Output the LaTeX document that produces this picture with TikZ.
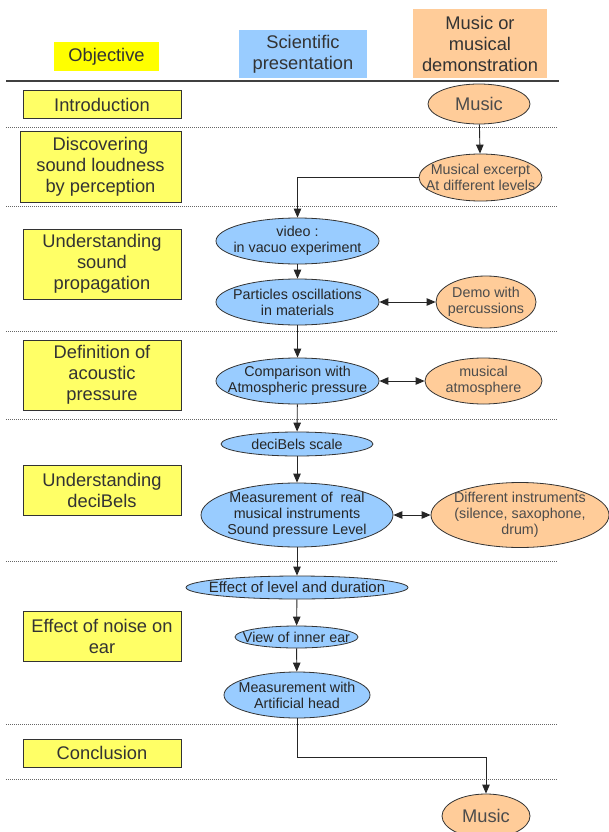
\documentclass[tikz,border=0pt]{standalone}
\usepackage{fontspec}
\setmainfont{Liberation Sans}
\usepackage{tikz}
\usetikzlibrary{shapes.geometric}
\usetikzlibrary{arrows.meta}
\definecolor{objyellow}{HTML}{FFFF00}
\definecolor{boxyellow}{HTML}{FFFF66}
\definecolor{sciblue}{HTML}{99CCFF}
\definecolor{musorange}{HTML}{FFCC99}
\definecolor{txtgray}{HTML}{333333}
\newcommand{\bigtxt}{\fontsize{18.3}{21}\selectfont}
\newcommand{\smalltxt}{\fontsize{14.3}{16}\selectfont}

\begin{document}
\begin{tikzpicture}[x=1pt, y=-1pt,
		head/.style={inner sep=0pt, align=center, text=txtgray, font=\bigtxt},
		stepbox/.style={draw=black!80, line width=1pt, fill=boxyellow, minimum width=158pt, inner sep=0pt, align=center, text=txtgray, font=\bigtxt},
		sci/.style={ellipse, draw=black!80, line width=0.8pt, fill=sciblue, inner sep=-20pt, align=center, text=black!85, font=\smalltxt},
		mus/.style={ellipse, draw=black!80, line width=0.8pt, fill=musorange, inner sep=-20pt, align=center, text=black!70, font=\smalltxt},
		arr/.style={line width=0.9pt, black!85, -{Triangle[length=9pt, width=7.5pt]}},
		dblarr/.style={line width=0.9pt, black!85, {Triangle[length=9pt, width=7.5pt]}-{Triangle[length=9pt, width=7.5pt]}},
		sep/.style={black!60, line width=0.8pt, dash pattern=on 1pt off 1pt}]
		\useasboundingbox (0, 0) rectangle (609, 832);
		\fill[white] (0, 0) rectangle (609, 832);
		\node[head, fill=objyellow, minimum width=105pt, minimum height=29pt] (objective) at (106.5, 56.5) {Objective};
		\node[head, fill=sciblue, minimum width=128pt, minimum height=48pt] (scientific) at (303, 54) {Scientific\\presentation};
		\node[head, fill=musorange, minimum width=134pt, minimum height=69pt] (musical) at (480, 43.5) {Music or\\musical\\demonstration};
		\draw[black!75, line width=1.2pt] (6, 81) to (559, 81);
		\foreach \y in {127, 206, 331, 419, 561, 724, 779} {
			\draw[sep] (6, \y) to (558, \y);
		}
		\node[stepbox, minimum height=28pt] (intro) at (102, 105) {Introduction};
		\node[stepbox, minimum width=161pt, minimum height=70pt] (discover) at (100.5, 167) {Discovering\\sound loudness\\by perception};
		\node[stepbox, minimum height=70pt] (propag) at (102, 264) {Understanding\\sound\\propagation};
		\node[stepbox, minimum height=70pt] (defin) at (102, 375) {Definition of\\acoustic\\pressure};
		\node[stepbox, minimum height=50pt] (undb) at (102, 490) {Understanding\\deciBels};
		\node[stepbox, minimum height=50pt] (noise) at (102, 636) {Effect of noise on\\ear};
		\node[stepbox, minimum height=28pt] (concl) at (102, 753) {Conclusion};
		\node[mus, font=\bigtxt, minimum width=102pt, minimum height=40pt] (music1) at (479, 104) {Music};
		\node[mus, minimum width=123pt, minimum height=47pt] (excerpt) at (480.5, 177.5) {Musical excerpt\\At different levels};
		\node[sci, minimum width=163pt, minimum height=46pt] (video) at (297.5, 241) {video :\\in vacuo experiment};
		\node[sci, minimum width=163pt, minimum height=46pt] (partic) at (297.5, 302) {Particles oscillations\\in materials};
		\node[mus, minimum width=100pt, minimum height=52pt] (demo) at (486, 302) {Demo with\\percussions};
		\node[sci, minimum width=163pt, minimum height=46pt] (compar) at (297.5, 381) {Comparison with\\Atmospheric pressure};
		\node[mus, minimum width=117pt, minimum height=46pt] (atmos) at (483.5, 381) {musical\\atmosphere};
		\node[sci, minimum width=152pt, minimum height=24pt] (dbscale) at (297, 444) {deciBels scale};
		\node[sci, minimum width=192pt, minimum height=64pt] (measure) at (297, 515) {Measurement of~ real\\musical instruments\\Sound pressure Level};
		\node[mus, minimum width=178pt, minimum height=65pt] (instr) at (520, 515) {Different instruments\\(silence, saxophone,\\drum)};
		\node[sci, font=\fontsize{14.9}{17}\selectfont, minimum width=222pt, minimum height=23pt] (effect) at (297, 587.5) {Effect of level and duration};
		\node[sci, minimum width=123pt, minimum height=22pt] (inner) at (296.5, 637) {View of inner ear};
		\node[sci, minimum width=146pt, minimum height=46pt] (arthead) at (297, 695) {Measurement with\\Artificial head};
		\node[mus, font=\bigtxt, minimum width=88pt, minimum height=44pt] (music2) at (486, 816) {Music};
		\coordinate (turn) at (297, 757);
		\draw[arr] (music1) to (excerpt);
		\draw[arr] (excerpt.west) -| (video.north);
		\draw[arr] (video) to (partic);
		\draw[dblarr] (partic) to (demo);
		\draw[arr] (partic) to (compar);
		\draw[dblarr] (compar) to (atmos);
		\draw[arr] (compar) to (dbscale);
		\draw[arr] (dbscale) to (measure);
		\draw[dblarr] (measure) to (instr);
		\draw[arr] (measure) to (effect);
		\draw[arr] (effect) to (inner);
		\draw[arr] (inner) to (arthead);
		\draw[arr] (arthead) to (turn) -| (music2.north);
	\end{tikzpicture}
\end{document}
